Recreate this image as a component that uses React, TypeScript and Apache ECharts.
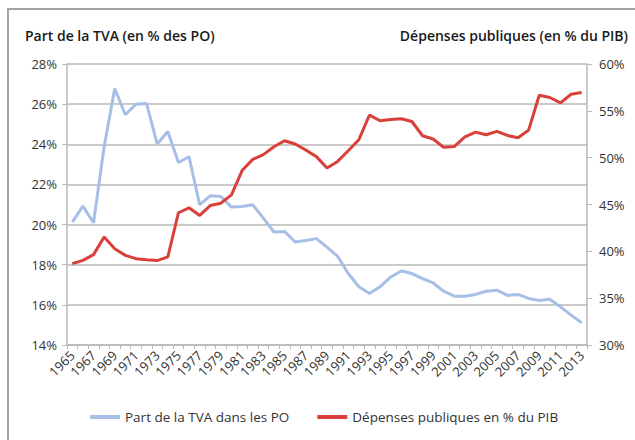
import React, { useEffect, useRef } from "react";
import * as echarts from "echarts";

const years: string[] = [];
for (let y = 1965; y <= 2013; y++) years.push(String(y));

const tvaShare = [
  20.12, 20.92, 20.09, 23.88, 26.78, 25.47, 26.0, 26.03, 24.01, 24.64,
  23.09, 23.38, 20.99, 21.43, 21.4, 20.87, 20.9, 20.99, 20.32, 19.63,
  19.66, 19.13, 19.21, 19.3, 18.88, 18.42, 17.56, 16.9, 16.57, 16.9,
  17.39, 17.69, 17.56, 17.31, 17.09, 16.68, 16.43, 16.43, 16.52, 16.68,
  16.73, 16.47, 16.52, 16.32, 16.22, 16.28, 15.9, 15.49, 15.11,
];

const publicSpending = [
  38.69, 39.04, 39.65, 41.52, 40.28, 39.57, 39.22, 39.11, 39.01, 39.4,
  44.12, 44.65, 43.83, 44.89, 45.14, 46.03, 48.62, 49.82, 50.32, 51.17,
  51.81, 51.46, 50.82, 50.11, 48.9, 49.6, 50.74, 51.91, 54.54, 53.94,
  54.07, 54.15, 53.86, 52.34, 51.99, 51.1, 51.2, 52.23, 52.73, 52.45,
  52.8, 52.37, 52.13, 52.94, 56.67, 56.42, 55.85, 56.77, 56.95,
];

const leftTitle = "Part de la TVA (en % des PO)";
const rightTitle = "Dépenses publiques (en % du PIB)";
const seriesNames = ["Part de la TVA dans les PO", "Dépenses publiques en % du PIB"];

const FONT = "'Open Sans', 'Noto Sans', sans-serif";
const AXIS_COLOR = "#b9b9b9";
const TEXT_COLOR = "#333333";

export default function App() {
  const ref = useRef<HTMLDivElement>(null);
  useEffect(() => {
    if (!ref.current) return;
    const chart = echarts.init(ref.current, undefined, { renderer: "svg" });
    chart.setOption({
      animation: false,
      backgroundColor: "#ffffff",
      textStyle: { fontFamily: FONT },
      graphic: [
        {
          type: "rect",
          shape: { x: 8, y: 9, width: 700, height: 500 },
          style: { fill: "none", stroke: "#a3a3ab", lineWidth: 2 },
          silent: true,
        },
        {
          type: "text",
          left: 25,
          top: 28,
          style: {
            text: leftTitle,
            font: `600 14px ${FONT}`,
            fill: "#1a1a1a",
          },
        },
        {
          type: "text",
          right: 7,
          top: 28,
          style: {
            text: rightTitle,
            font: `600 14px ${FONT}`,
            fill: "#1a1a1a",
          },
        },
      ],
      grid: { left: 67, right: 48, top: 64, bottom: 95, containLabel: false },
      legend: {
        top: 405,
        left: 85,
        itemWidth: 30,
        itemHeight: 4,
        itemGap: 28,
        icon: "rect",
        textStyle: { fontFamily: FONT, fontSize: 13.5, color: TEXT_COLOR },
        data: seriesNames,
      },
      xAxis: {
        type: "category",
        data: years,
        boundaryGap: true,
        axisLine: { lineStyle: { color: AXIS_COLOR, width: 1.5 } },
        axisTick: { show: true, interval: 0, length: 4, lineStyle: { color: AXIS_COLOR } },
        axisLabel: {
          interval: 1,
          rotate: 45,
          margin: 8,
          fontFamily: FONT,
          fontSize: 13,
          color: TEXT_COLOR,
        },
      },
      yAxis: [
        {
          type: "value",
          min: 14,
          max: 28,
          interval: 2,
          position: "left",
          axisLine: { show: true, lineStyle: { color: AXIS_COLOR, width: 1.5 } },
          axisTick: { show: true, length: 5, lineStyle: { color: AXIS_COLOR } },
          splitLine: { show: true, lineStyle: { color: AXIS_COLOR, width: 1.5 } },
          axisLabel: {
            formatter: "{value}%",
            margin: 10,
            fontFamily: FONT,
            fontSize: 13,
            color: TEXT_COLOR,
          },
        },
        {
          type: "value",
          min: 30,
          max: 60,
          interval: 5,
          position: "right",
          axisLine: { show: true, lineStyle: { color: AXIS_COLOR, width: 1.5 } },
          axisTick: { show: true, length: 5, lineStyle: { color: AXIS_COLOR } },
          splitLine: { show: false },
          axisLabel: {
            formatter: "{value}%",
            margin: 12,
            fontFamily: FONT,
            fontSize: 13,
            color: TEXT_COLOR,
          },
        },
      ],
      series: [
        {
          name: seriesNames[0],
          type: "line",
          yAxisIndex: 0,
          data: tvaShare,
          showSymbol: false,
          symbol: "none",
          lineStyle: { color: "#a7bfe6", width: 3 },
          itemStyle: { color: "#a7bfe6" },
        },
        {
          name: seriesNames[1],
          type: "line",
          yAxisIndex: 1,
          data: publicSpending,
          showSymbol: false,
          symbol: "none",
          lineStyle: { color: "#d9403a", width: 3 },
          itemStyle: { color: "#d9403a" },
        },
      ],
    });
    return () => chart.dispose();
  }, []);
  return (
    <div
      ref={ref}
      style={{ position: "fixed", left: 0, top: 0, width: 635, height: 440 }}
    />
  );
}
